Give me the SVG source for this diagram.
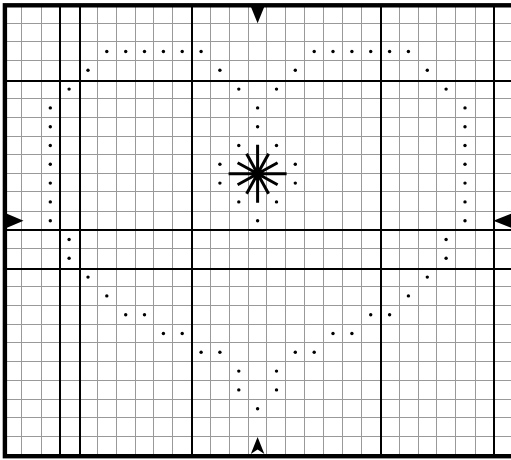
<svg xmlns="http://www.w3.org/2000/svg" width="511" height="460" viewBox="0 0 511 460">
<style>
.thin{stroke:#999;stroke-width:1;fill:none}
.thick{stroke:#000;stroke-width:2;fill:none}
.dot{fill:#000}
.arrow{fill:#000}
.star{stroke:#000;stroke-width:3;fill:none}
</style>
<defs>
<circle id="d" r="1.7" class="dot"/>
</defs>
<rect width="511" height="460" fill="#fff"/>
<g id="grid-thin">
<path class="thin" d="M21.5,5V456M41.5,5V456M97.5,5V456M116.5,5V456M135.5,5V456M153.5,5V456M172.5,5V456M210.5,5V456M229.5,5V456M248.5,5V456M266.5,5V456M285.5,5V456M304.5,5V456M323.5,5V456M342.5,5V456M361.5,5V456M399.5,5V456M418.5,5V456M436.5,5V456M455.5,5V456M475.5,5V456"/>
<path class="thin" d="M5,23.5H511M5,41.5H511M5,60.5H511M5,98.5H511M5,117.5H511M5,136.5H511M5,154.5H511M5,173.5H511M5,191.5H511M5,211.5H511M5,248.5H511M5,286.5H511M5,305.5H511M5,324.5H511M5,342.5H511M5,361.5H511M5,380.5H511M5,399.5H511M5,417.5H511M5,436.5H511"/>
</g>
<g id="grid-thick">
<path class="thick" d="M60,5V456M80,5V456M192,5V456M381,5V456M494,5V456"/>
<path class="thick" d="M5,81H511M5,230H511M5,269H511"/>
</g>
<g id="border">
<rect x="4.9" y="5.3" width="509" height="450.9" fill="none" stroke="#000" stroke-width="4.4"/>
</g>
<g id="dots">
<use href="#d" x="106.8" y="51.5"/><use href="#d" x="125.7" y="51.5"/><use href="#d" x="144.5" y="51.5"/><use href="#d" x="163.4" y="51.5"/><use href="#d" x="182.2" y="51.5"/><use href="#d" x="201.1" y="51.5"/>
<use href="#d" x="314.2" y="51.5"/><use href="#d" x="333" y="51.5"/><use href="#d" x="351.9" y="51.5"/><use href="#d" x="370.7" y="51.5"/><use href="#d" x="389.6" y="51.5"/><use href="#d" x="408.4" y="51.5"/>
<use href="#d" x="88" y="70.3"/><use href="#d" x="219.9" y="70.3"/><use href="#d" x="295.3" y="70.3"/><use href="#d" x="427.3" y="70.3"/>
<use href="#d" x="69.1" y="89.1"/><use href="#d" x="238.8" y="89.1"/><use href="#d" x="276.5" y="89.1"/><use href="#d" x="446.1" y="89.1"/>
<use href="#d" x="50.3" y="107.9"/><use href="#d" x="257.6" y="107.9"/><use href="#d" x="465" y="107.9"/>
<use href="#d" x="50.3" y="126.7"/><use href="#d" x="257.6" y="126.7"/><use href="#d" x="465" y="126.7"/>
<use href="#d" x="50.3" y="145.5"/><use href="#d" x="238.8" y="145.5"/><use href="#d" x="276.5" y="145.5"/><use href="#d" x="465" y="145.5"/>
<use href="#d" x="50.3" y="164.3"/><use href="#d" x="219.9" y="164.3"/><use href="#d" x="295.3" y="164.3"/><use href="#d" x="465" y="164.3"/>
<use href="#d" x="50.3" y="183.1"/><use href="#d" x="219.9" y="183.1"/><use href="#d" x="295.3" y="183.1"/><use href="#d" x="465" y="183.1"/>
<use href="#d" x="50.3" y="201.9"/><use href="#d" x="238.8" y="201.9"/><use href="#d" x="276.5" y="201.9"/><use href="#d" x="465" y="201.9"/>
<use href="#d" x="50.3" y="220.7"/><use href="#d" x="257.6" y="220.7"/><use href="#d" x="465" y="220.7"/>
<use href="#d" x="69.1" y="239.5"/><use href="#d" x="446.1" y="239.5"/>
<use href="#d" x="69.1" y="258.3"/><use href="#d" x="446.1" y="258.3"/>
<use href="#d" x="88" y="277.1"/><use href="#d" x="427.3" y="277.1"/>
<use href="#d" x="106.8" y="295.9"/><use href="#d" x="408.4" y="295.9"/>
<use href="#d" x="125.7" y="314.7"/><use href="#d" x="144.5" y="314.7"/><use href="#d" x="370.7" y="314.7"/><use href="#d" x="389.6" y="314.7"/>
<use href="#d" x="163.4" y="333.5"/><use href="#d" x="182.2" y="333.5"/><use href="#d" x="333" y="333.5"/><use href="#d" x="351.9" y="333.5"/>
<use href="#d" x="201.1" y="352.3"/><use href="#d" x="219.9" y="352.3"/><use href="#d" x="295.3" y="352.3"/><use href="#d" x="314.2" y="352.3"/>
<use href="#d" x="238.8" y="371.1"/><use href="#d" x="276.5" y="371.1"/>
<use href="#d" x="238.8" y="389.9"/><use href="#d" x="276.5" y="389.9"/>
<use href="#d" x="257.6" y="408.7"/>
</g>
<g id="star" transform="translate(257.6,173.7)">
<path class="star" d="M0,-29V29M-29,0H29M-20,-11L20,11M-20,11L20,-11M-11,-20L11,20M-11,20L11,-20"/>
</g>
<g id="arrows">
<polygon class="arrow" points="251,7 264.2,7 257.6,23.3"/>
<polygon class="arrow" points="257.6,437 264.4,454 257.6,449.5 250.8,454"/>
<polygon class="arrow" points="7,213.7 23.5,220.7 7,227.7"/>
<polygon class="arrow" points="493.3,220.7 511,213.7 511,227.7"/>
</g>
</svg>
